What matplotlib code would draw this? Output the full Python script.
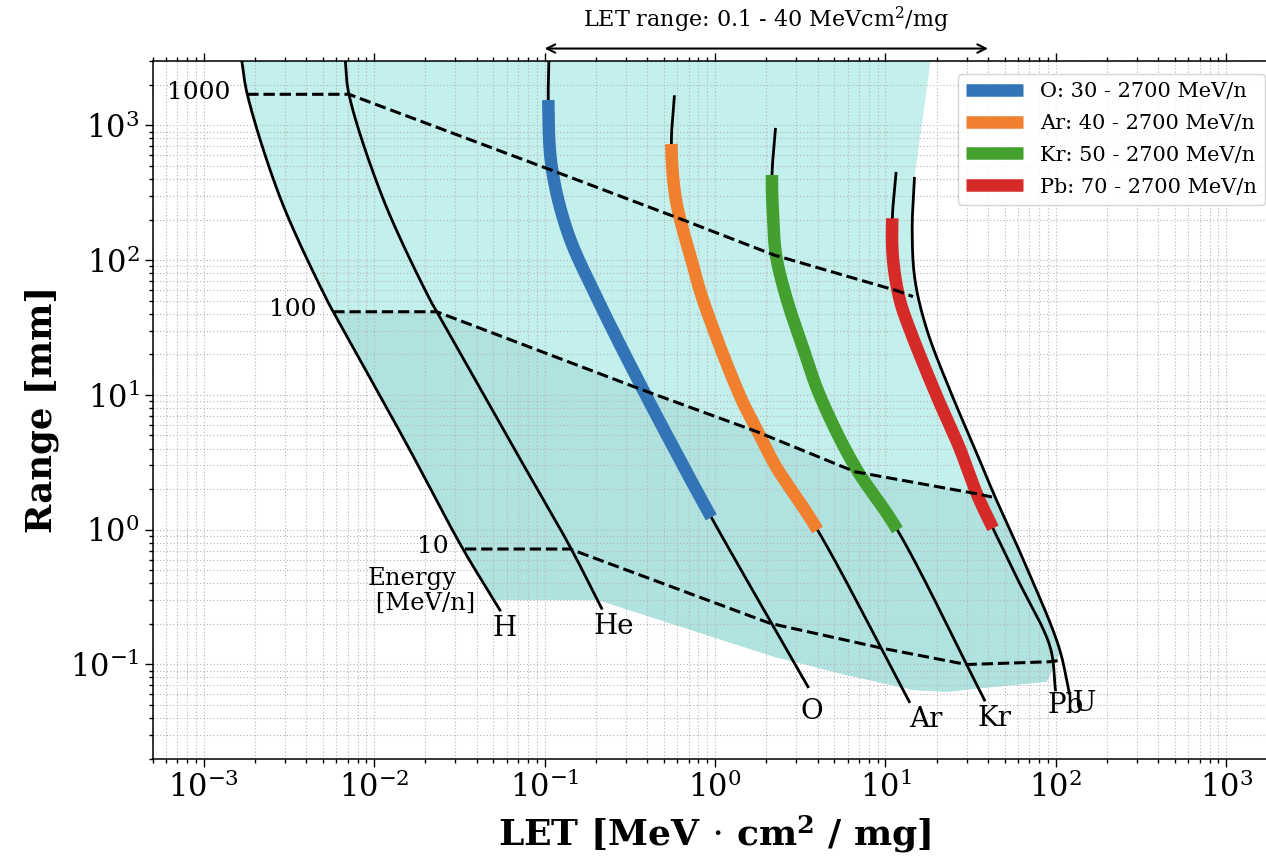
import numpy as np
import matplotlib
matplotlib.use("Agg")
import matplotlib.pyplot as plt
from matplotlib.lines import Line2D
from matplotlib.ticker import LogLocator, NullFormatter, FixedLocator, LogFormatterSciNotation

plt.rcParams["font.family"] = ["DejaVu Serif"]
plt.rcParams["mathtext.fontset"] = "dejavuserif"

# ---------------------------------------------------------------------------
# Range (mm) versus LET (MeV cm^2/mg) in silicon, one curve per ion,
# ordered from high to low energy.
# ---------------------------------------------------------------------------
H_LET = [1.66e-3, 1.80e-3, 2.84e-3, 5.28e-3, 5.75e-3, 1.58e-2, 3.26e-2, 5.47e-2]
H_R = [3200, 1701, 279.5, 50.6, 41.4, 4.13, 0.747, 0.253]

HE_LET = [6.74e-3, 7.11e-3, 1.135e-2, 2.13e-2, 2.33e-2, 6.53e-2, 0.141, 0.216]
HE_R = [3200, 1701, 279.5, 50.6, 41.4, 4.13, 0.747, 0.261]

O_LET = [0.1061, 0.1051, 0.110, 0.1372, 0.2057, 0.3533, 0.567, 0.951, 3.51]
O_R = [3200, 1543, 494, 158.2, 50.6, 12.9, 4.13, 1.235, 0.0683]

AR_LET = [0.577, 0.5548, 0.5903, 0.7328, 0.850, 1.402, 1.764, 2.25, 3.996, 13.81]
AR_R = [1633, 727.8, 279.5, 96.9, 50.6, 9.81, 5.49, 3.02, 0.994, 0.0529]

KR_LET = [2.262, 2.160, 2.190, 2.280, 2.646, 3.241, 4.133, 6.63, 11.76, 38.15]
KR_R = [935.5, 428.5, 216.3, 109.2, 50.6, 23.5, 9.81, 2.933, 0.994, 0.0544]

PB_LET = [11.54, 10.98, 11.09, 12.15, 13.94, 20.08, 27.04, 34.95, 42.8, 60.0, 92.5, 99.5]
PB_R = [441.0, 204.5, 100.3, 50.6, 30.3, 9.70, 4.13, 1.756, 1.023, 0.423, 0.1353, 0.0646]

U_LET = [14.80, 14.36, 14.92, 17.54, 24.8, 33.1, 43.1, 65.8, 104.1, 120.2]
U_R = [404.9, 167.4, 71.2, 30.3, 9.70, 4.13, 1.861, 0.5628, 0.1353, 0.0610]

ION_NAMES = ["H", "He", "O", "Ar", "Kr", "Pb", "U"]
ION_LETS = [H_LET, HE_LET, O_LET, AR_LET, KR_LET, PB_LET, U_LET]
ION_RANGES = [H_R, HE_R, O_R, AR_R, KR_R, PB_R, U_R]

# Iso-energy lines (MeV/n)
ENERGY_LEVELS = [1000, 100, 10]
E1000_LET = [1.80e-3, 7.11e-3, 0.109, 0.6065, 2.219, 11.86, 14.52]
E1000_R = [1701, 1701, 466.7, 205.5, 109.2, 59.0, 53.6]
E100_LET = [5.75e-3, 2.33e-2, 0.363, 1.764, 6.63, 34.95, 42.2]
E100_R = [41.4, 41.4, 11.06, 5.33, 2.69, 1.839, 1.747]
E10_LET = [3.41e-2, 0.141, 2.103, 9.616, 29.96, 92.5, 110.2]
E10_R = [0.7185, 0.7185, 0.2018, 0.1317, 0.0998, 0.1047, 0.1078]
ENERGY_LETS = [E1000_LET, E100_LET, E10_LET]
ENERGY_RANGES = [E1000_R, E100_R, E10_R]

# Accessible region: lower edge and upper-right corner
FILL_BOTTOM_LET = [0.0505, 0.2057, 2.219, 5.93, 14.52, 22.89, 35.91, 88.44, 104.4]
FILL_BOTTOM_R = [0.3006, 0.3006, 0.1141, 0.0834, 0.0646, 0.0627, 0.0665, 0.0744, 0.1174]
FILL_CORNER_LET = [18.52]
FILL_CORNER_R = [3200]

# Highlighted beam energy windows
HL_IONS = ["O", "Ar", "Kr", "Pb"]
HL_LABELS = ["O: 30 - 2700 MeV/n", "Ar: 40 - 2700 MeV/n",
             "Kr: 50 - 2700 MeV/n", "Pb: 70 - 2700 MeV/n"]
HL_R_TOP = [1543, 727.8, 428.5, 204.5]
HL_R_BOTTOM = [1.235, 0.994, 0.994, 1.023]
HL_COLORS = ["#3274b6", "#f07f2e", "#43a02e", "#d62a28"]

LET_SPAN = [0.1, 40]

# Axis decades
X_DECADES = [1e-3, 1e-2, 1e-1, 1e0, 1e1, 1e2, 1e3]
Y_DECADES = [1e-1, 1e0, 1e1, 1e2, 1e3]

# Label offsets (points) from each curve's low-energy end
ION_LABEL_OFFSETS = {"H": (3, -13), "He": (9, -13), "O": (3, -18), "Ar": (12, -12.5),
                     "Kr": (7, -13), "Pb": (7, -11.5), "U": (10.5, -7)}


def smooth(let, rng, n=30):
    """Centripetal Catmull-Rom path through the points, in log-log space."""
    P = np.column_stack([np.log10(let), np.log10(rng)])
    P = np.vstack([2 * P[0] - P[1], P, 2 * P[-1] - P[-2]])
    out = []
    for i in range(1, len(P) - 2):
        p0, p1, p2, p3 = P[i - 1], P[i], P[i + 1], P[i + 2]
        t0 = 0.0
        t1 = t0 + np.linalg.norm(p1 - p0) ** 0.5
        t2 = t1 + np.linalg.norm(p2 - p1) ** 0.5
        t3 = t2 + np.linalg.norm(p3 - p2) ** 0.5
        t = np.linspace(t1, t2, n, endpoint=False)[:, None]
        a1 = (t1 - t) / (t1 - t0) * p0 + (t - t0) / (t1 - t0) * p1
        a2 = (t2 - t) / (t2 - t1) * p1 + (t - t1) / (t2 - t1) * p2
        a3 = (t3 - t) / (t3 - t2) * p2 + (t - t2) / (t3 - t2) * p3
        b1 = (t2 - t) / (t2 - t0) * a1 + (t - t0) / (t2 - t0) * a2
        b2 = (t3 - t) / (t3 - t1) * a2 + (t - t1) / (t3 - t1) * a3
        out.append((t2 - t) / (t2 - t1) * b1 + (t - t1) / (t2 - t1) * b2)
    out.append(P[-2][None, :])
    arr = 10 ** np.vstack(out)
    return list(arr[:, 0]), list(arr[:, 1])


def clip_by_range(let, rng, r_lo, r_hi):
    """Part of a polyline (in log-log space) with range inside [r_lo, r_hi]."""
    lx, ly = np.log10(let), np.log10(rng)
    lo, hi = np.log10(r_lo), np.log10(r_hi)
    pts = []
    for i in range(len(lx) - 1):
        x0, y0, x1, y1 = lx[i], ly[i], lx[i + 1], ly[i + 1]
        if y1 == y0:
            if not (lo <= y0 <= hi):
                continue
            t0, t1 = 0.0, 1.0
        else:
            ta, tb = (lo - y0) / (y1 - y0), (hi - y0) / (y1 - y0)
            t0, t1 = max(0.0, min(ta, tb)), min(1.0, max(ta, tb))
            if t0 > t1:
                continue
        for t in (t0, t1):
            p = (x0 + t * (x1 - x0), y0 + t * (y1 - y0))
            if not pts or abs(p[0] - pts[-1][0]) + abs(p[1] - pts[-1][1]) > 1e-9:
                pts.append(p)
    arr = 10 ** np.array(pts)
    return list(arr[:, 0]), list(arr[:, 1])


fig = plt.figure(figsize=(12.66, 8.56), dpi=100)
ax = fig.add_axes([152.5 / 1266, 97.4 / 856, 1125 / 1266, 697.5 / 856])
ax.set_xscale("log")
ax.set_yscale("log")
ax.set_xlim(5e-4, 2e3)
ax.set_ylim(0.02, 3000)

curves = {name: smooth(let, rng) for name, let, rng in zip(ION_NAMES, ION_LETS, ION_RANGES)}

# Shaded regions
hx, hy = clip_by_range(*curves["H"], FILL_BOTTOM_R[0], 1e9)
ux, uy = clip_by_range(*curves["U"], FILL_BOTTOM_R[-1], 1e9)
light_x = hx + FILL_BOTTOM_LET + ux[::-1] + FILL_CORNER_LET
light_y = hy + FILL_BOTTOM_R + uy[::-1] + FILL_CORNER_R
ax.fill(light_x, light_y, color="#c3efec", lw=0, zorder=1)

ux2, uy2 = clip_by_range(*curves["U"], FILL_BOTTOM_R[-1], E100_R[-1])
hx2, hy2 = clip_by_range(*curves["H"], FILL_BOTTOM_R[0], E100_R[0])
dark_x = E100_LET + ux2 + FILL_BOTTOM_LET[::-1] + hx2[::-1]
dark_y = E100_R + uy2 + FILL_BOTTOM_R[::-1] + hy2[::-1]
ax.fill(dark_x, dark_y, color="#b0e2df", lw=0, zorder=1.1)

# Ion curves
for name, let, rng in zip(ION_NAMES, ION_LETS, ION_RANGES):
    cx, cy = curves[name]
    ax.plot(cx, cy, color="black", lw=2.0, zorder=2.5)
    ax.annotate(name, xy=(let[-1], rng[-1]), xytext=ION_LABEL_OFFSETS[name],
                textcoords="offset points", ha="center", va="center", fontsize=20)

# Highlighted energy windows
handles = []
for ion, lab, rtop, rbot, col in zip(HL_IONS, HL_LABELS, HL_R_TOP, HL_R_BOTTOM, HL_COLORS):
    sx, sy = clip_by_range(*curves[ion], rbot, rtop)
    ax.plot(sx, sy, color=col, lw=9, solid_capstyle="butt", zorder=3)
    handles.append(Line2D([], [], color=col, lw=9, solid_capstyle="butt", label=lab))

# Iso-energy lines
for e, let, rng in zip(ENERGY_LEVELS, ENERGY_LETS, ENERGY_RANGES):
    ax.plot(let, rng, color="black", lw=2.2, ls="--", zorder=4)
    ax.annotate(str(e), xy=(let[0], rng[0]), xytext=(-12, 1.5), textcoords="offset points",
                ha="right", va="center", fontsize=18)
ax.text(9.2e-3, 0.53, "Energy\n [MeV/n]", ha="left", va="top", fontsize=17.5,
        linespacing=1.1)

# LET window arrow above the axes
ax.annotate("", xy=(LET_SPAN[1], 1.018), xytext=(LET_SPAN[0], 1.018),
            xycoords=("data", "axes fraction"), textcoords=("data", "axes fraction"),
            arrowprops=dict(arrowstyle="<->,head_length=0.6,head_width=0.3", lw=1.5,
                            color="black", shrinkA=0, shrinkB=0),
            annotation_clip=False)
ax.text(np.sqrt(LET_SPAN[0] * LET_SPAN[1]), 1.049,
        "LET range: 0.1 - 40 MeVcm$^2$/mg", transform=ax.get_xaxis_transform(),
        ha="center", va="baseline", fontsize=16)

# Axes styling
ax.xaxis.set_major_locator(FixedLocator(X_DECADES))
ax.yaxis.set_major_locator(FixedLocator(Y_DECADES))
ax.xaxis.set_major_formatter(LogFormatterSciNotation())
ax.yaxis.set_major_formatter(LogFormatterSciNotation())
ax.xaxis.set_minor_locator(LogLocator(base=10, subs=np.arange(2, 10), numticks=100))
ax.yaxis.set_minor_locator(LogLocator(base=10, subs=np.arange(2, 10), numticks=100))
ax.xaxis.set_minor_formatter(NullFormatter())
ax.yaxis.set_minor_formatter(NullFormatter())
ax.tick_params(which="both", direction="out", top=True, labeltop=False, width=1)
ax.tick_params(which="major", length=6, labelsize=22)
ax.tick_params(which="minor", length=3)
ax.grid(which="both", ls=(0, (1, 2)), color="#b5b5b5", lw=0.8)
for sp in ax.spines.values():
    sp.set_linewidth(1.1)

ax.set_xlabel(r"LET [MeV $\cdot$ cm$^{\mathbf{2}}$ / mg]", fontsize=26, fontweight="bold",
              labelpad=6)
ax.set_ylabel("Range [mm]", fontsize=25.5, fontweight="bold", labelpad=8)

ax.legend(handles=handles, loc="upper right", fontsize=15, handlelength=2.75,
          labelspacing=0.62, framealpha=0.85, edgecolor="#cccccc", borderaxespad=0.6)

fig.savefig("out.png", dpi=100)
